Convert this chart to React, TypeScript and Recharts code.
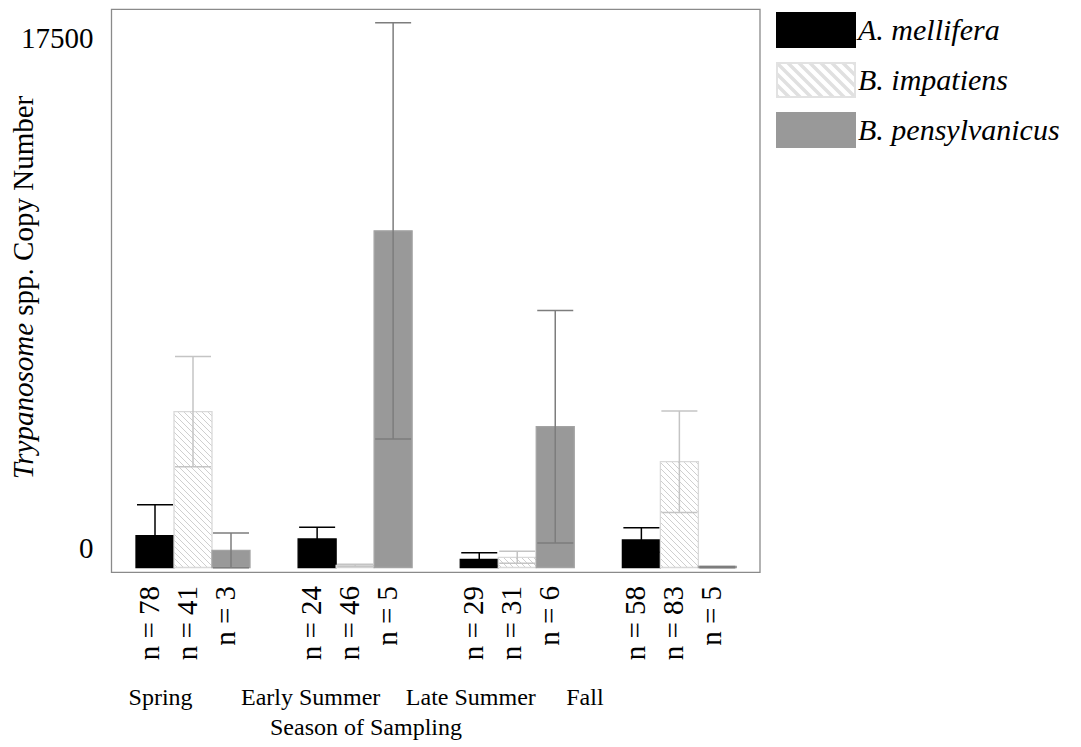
import { BarChart, Bar, XAxis, YAxis, ErrorBar, LabelList, ReferenceArea } from "recharts";

const seasons = ["Spring", "Early Summer", "Late Summer", "Fall"];

const mellifera = [1090, 980, 280, 945];
const melliferaErr = [1065, 400, 225, 420];
const melliferaN = [78, 24, 29, 58];

const impatiens = [5345, 70, 350, 3630];
const impatiensErr = [1890, 40, 205, 1740];
const impatiensN = [41, 46, 31, 83];

const pensylvanicus = [590, 11550, 4830, 12];
const pensylvanicusErr = [595, 7140, 3990, 25];
const pensylvanicusN = [3, 5, 6, 5];

const yTicks = [0, 17500];
const yDomain = [-165, 19150];

const FONT = "'Liberation Serif', 'Times New Roman', serif";
const FRAME = "#8a8a8a";

// hand placed season labels in the original sit left of the band centres
const seasonShift = [-32, -44, -46, -94];

const chartData = seasons.map((season, i) => ({
  season,
  a: mellifera[i],
  aErr: melliferaErr[i],
  aN: melliferaN[i],
  b: impatiens[i],
  bErr: impatiensErr[i],
  bN: impatiensN[i],
  c: pensylvanicus[i],
  cErr: pensylvanicusErr[i],
  cN: pensylvanicusN[i],
}));

const series = [
  { key: "a", name: "A. mellifera", fill: "#000000", stroke: "#000000", err: "#000000" },
  { key: "b", name: "B. impatiens", fill: "url(#hatch)", stroke: "#d9d9d9", err: "#c4c4c4" },
  { key: "c", name: "B. pensylvanicus", fill: "#999999", stroke: "#a3a3a3", err: "#7d7d7d" },
];

const SeasonTick = (props: any) => {
  const { x, y, payload } = props;
  return (
    <text
      x={x + seasonShift[payload.index]}
      y={y + 133}
      textAnchor="middle"
      fontFamily={FONT}
      fontSize={24}
      fill="#000"
    >
      {payload.value}
    </text>
  );
};

const ValueTick = (props: any) => {
  const { x, y, payload } = props;
  return (
    <text x={x} y={y - 9.5} textAnchor="end" fontFamily={FONT} fontSize={29} fill="#000">
      {payload.value}
    </text>
  );
};

const nLabel = (props: any) => {
  const { x, y, width, height, value } = props;
  const cx = Number(x) + Number(width) / 2 + 4;
  const top = Number(y) + Number(height) + 18.5;
  return (
    <text
      x={cx}
      y={top}
      transform={`rotate(-90 ${cx} ${top})`}
      textAnchor="end"
      fontFamily={FONT}
      fontSize={29}
      fill="#000"
    >
      {`n = ${value}`}
    </text>
  );
};

function LegendSwatch({ idx }: { idx: number }) {
  if (idx === 0) return <rect x={0} y={0} width={80} height={36} fill="#000" />;
  if (idx === 2) return <rect x={0} y={0} width={80} height={36} fill="#999999" />;
  return (
    <g>
      <defs>
        <pattern id="hatchLegend" patternUnits="userSpaceOnUse" width={11} height={11}>
          <path d="M0,0 L11,11 M-2,9 L2,13 M9,-2 L13,2" stroke="#e0e0e0" strokeWidth={3.5} />
        </pattern>
      </defs>
      <rect x={1} y={1} width={78} height={34} fill="url(#hatchLegend)" stroke="#e2e2e2" strokeWidth={2} />
    </g>
  );
}

export default function App() {
  return (
    <div style={{ position: "absolute", left: 0, top: 0, width: 1081, height: 747 }}>
      <BarChart
        width={1081}
        height={747}
        data={chartData}
        margin={{ top: 9.3, right: 321, bottom: 0, left: 0 }}
        barCategoryGap={24.5}
        barGap={0}
      >
        <defs>
          <pattern id="hatch" patternUnits="userSpaceOnUse" width={6} height={6}>
            <rect width={6} height={6} fill="#ffffff" />
            <path d="M0,0 L6,6 M-1,5 L1,7 M5,-1 L7,1" stroke="#cfcfcf" strokeWidth={1} />
          </pattern>
        </defs>
        <XAxis
          dataKey="season"
          height={174.7}
          tickSize={0}
          tickMargin={0}
          tickLine={false}
          axisLine={false}
          tick={SeasonTick}
          interval={0}
        />
        <YAxis
          width={111.5}
          domain={yDomain}
          ticks={yTicks}
          allowDataOverflow
          tickSize={0}
          tickMargin={18}
          tickLine={false}
          axisLine={false}
          tick={ValueTick}
        />
        {/* plot frame: no x bounds, so it spans the full category range */}
        <ReferenceArea
          y1={yDomain[0]}
          y2={yDomain[1]}
          fill="none"
          fillOpacity={0}
          stroke={FRAME}
          strokeWidth={1.3}
          ifOverflow="visible"
        />
        {series.map((s) => (
          <Bar
            key={s.key}
            dataKey={s.key}
            name={s.name}
            fill={s.fill}
            stroke={s.stroke}
            strokeWidth={1.3}
            minPointSize={1}
            isAnimationActive={false}
          >
            <ErrorBar dataKey={`${s.key}Err`} width={18} stroke={s.err} strokeWidth={1.5} direction="y" />
            <LabelList dataKey={`${s.key}N`} content={nLabel} />
          </Bar>
        ))}
        <text
          x={32.7}
          y={287.5}
          transform="rotate(-90 32.7 287.5)"
          textAnchor="middle"
          fontFamily={FONT}
          fontSize={29}
          fill="#000"
        >
          <tspan fontStyle="italic">Trypanosome</tspan> spp. Copy Number
        </text>
        <text x={366} y={735} textAnchor="middle" fontFamily={FONT} fontSize={24} fill="#000">
          Season of Sampling
        </text>
      </BarChart>
      <div style={{ position: "absolute", left: 776, top: 11.7 }}>
        {series.map((s, i) => (
          <div key={s.key} style={{ display: "flex", alignItems: "center", height: 36, marginBottom: 14 }}>
            <svg width={80} height={36} style={{ display: "block" }}>
              <LegendSwatch idx={i} />
            </svg>
            <span
              style={{
                fontFamily: FONT,
                fontStyle: "italic",
                fontSize: 30,
                marginLeft: 2,
                lineHeight: "36px",
                whiteSpace: "nowrap",
              }}
            >
              {s.name}
            </span>
          </div>
        ))}
      </div>
    </div>
  );
}
